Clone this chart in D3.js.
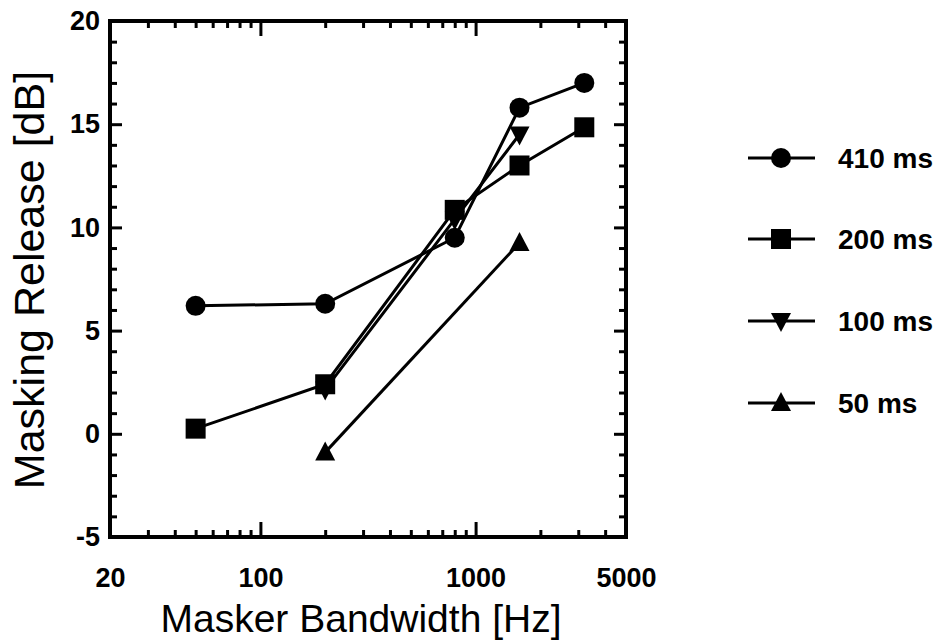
<!DOCTYPE html>
<html>
<head>
<meta charset="utf-8">
<script src="https://cdn.jsdelivr.net/npm/d3@7"></script>
<style>
  body { margin: 0; background: #fff; }
  svg { font-family: "Liberation Sans", Arial, sans-serif; }
  .tick text { font-weight: bold; font-size: 27px; fill: #000; }
</style>
</head>
<body>
<svg id="chart" width="941" height="641"></svg>
<script>
// masker bandwidths in Hz
var bw50 = [50, 200, 800, 1600, 3200];
var bwShort = [200, 800, 1600];
var bwShortest = [200, 1600];

// masking release (dB) per signal duration
var release410 = [6.2, 6.3, 9.5, 15.8, 17.0];
var release200 = [0.25, 2.4, 10.85, 13.0, 14.85];
var release100 = [2.15, 10.4, 14.5];
var release50 = [-0.9, 9.25];

var seriesNames = ['410 ms', '200 ms', '100 ms', '50 ms'];
var seriesSymbols = ['circle', 'square', 'down', 'up'];

var xTickLabels = [20, 100, 1000, 5000];
var xMinorTicks = [30, 40, 50, 60, 70, 80, 90, 200, 300, 400, 500, 600, 700, 800, 900, 2000, 3000, 4000];
var xMajorTicks = [100, 1000];
var yTickLabels = [-5, 0, 5, 10, 15, 20];
var yMinorTicks = d3.range(-4, 20);

var svg = d3.select('#chart');

var x = d3.scaleLog().domain([20, 5000]).range([110, 626]);
var y = d3.scaleLinear().domain([-5, 20]).range([537, 21]);

// inward pointing ticks on all four sides
function tickAxis(axis, values, size) {
    return axis.tickValues(values).tickSize(-size).tickFormat('');
}
function styleTicks(g) {
    g.select('.domain').remove();
    g.selectAll('.tick line').attr('stroke', '#000').attr('stroke-width', 3);
}

[[xMinorTicks, 7], [xMajorTicks, 15]].forEach(function(t) {
    svg.append('g').attr('transform', 'translate(0,537)')
        .call(tickAxis(d3.axisBottom(x), t[0], t[1])).call(styleTicks);
    svg.append('g').attr('transform', 'translate(0,21)')
        .call(tickAxis(d3.axisTop(x), t[0], t[1])).call(styleTicks);
});
var yMinor = yMinorTicks.filter(function(v) { return v % 5 !== 0; });
var yMajor = [0, 5, 10, 15];
[[yMinor, 7], [yMajor, 12]].forEach(function(t) {
    svg.append('g').attr('transform', 'translate(110,0)')
        .call(tickAxis(d3.axisLeft(y), t[0], t[1])).call(styleTicks);
    svg.append('g').attr('transform', 'translate(626,0)')
        .call(tickAxis(d3.axisRight(y), t[0], t[1])).call(styleTicks);
});

// tick labels (plain hyphen for negatives)
var plain = function(d) { return String(d); };
svg.append('g').attr('transform', 'translate(0,537)')
    .call(d3.axisBottom(x).tickValues(xTickLabels).tickSize(0).tickPadding(31).tickFormat(plain))
    .call(function(g) { g.select('.domain').remove(); });
svg.append('g').attr('transform', 'translate(110,0)')
    .call(d3.axisLeft(y).tickValues(yTickLabels).tickSize(0).tickPadding(10).tickFormat(plain))
    .call(function(g) { g.select('.domain').remove(); });

// frame
svg.append('rect')
    .attr('x', 110).attr('y', 21)
    .attr('width', 516).attr('height', 516)
    .attr('fill', 'none').attr('stroke', '#000').attr('stroke-width', 4);

// axis titles
svg.append('text')
    .attr('x', 361).attr('y', 632)
    .attr('text-anchor', 'middle')
    .attr('font-size', 39)
    .text('Masker Bandwidth [Hz]');
svg.append('text')
    .attr('transform', 'translate(44,280) rotate(-90)')
    .attr('text-anchor', 'middle')
    .attr('font-size', 43)
    .text('Masking Release [dB]');

// marker shapes
function drawSymbol(g, kind, cx, cy) {
    if (kind === 'circle') {
        g.append('circle').attr('cx', cx).attr('cy', cy).attr('r', 10);
    } else if (kind === 'square') {
        g.append('rect').attr('x', cx - 10).attr('y', cy - 10).attr('width', 20).attr('height', 20);
    } else if (kind === 'down') {
        g.append('path').attr('d', 'M' + (cx - 10) + ',' + (cy - 8) + 'L' + (cx + 10) + ',' + (cy - 8) + 'L' + cx + ',' + (cy + 11) + 'Z');
    } else {
        g.append('path').attr('d', 'M' + (cx - 10) + ',' + (cy + 8) + 'L' + (cx + 10) + ',' + (cy + 8) + 'L' + cx + ',' + (cy - 11) + 'Z');
    }
}

var series = [
    {xs: bw50, ys: release410},
    {xs: bw50, ys: release200},
    {xs: bwShort, ys: release100},
    {xs: bwShortest, ys: release50}
];

var line = d3.line()
    .x(function(d) { return x(d[0]); })
    .y(function(d) { return y(d[1]); });

var plot = svg.append('g');
// draw in reverse so 410 ms sits on top
series.slice().reverse().forEach(function(s, i) {
    var idx = series.length - 1 - i;
    var pts = d3.zip(s.xs, s.ys);
    var g = plot.append('g').attr('fill', '#000');
    g.append('path')
        .attr('d', line(pts))
        .attr('fill', 'none')
        .attr('stroke', '#000')
        .attr('stroke-width', 3);
    pts.forEach(function(p) {
        drawSymbol(g, seriesSymbols[idx], x(p[0]), y(p[1]));
    });
});

// legend
var legendY = [158, 239, 321, 403];
seriesNames.forEach(function(name, i) {
    var g = svg.append('g').attr('fill', '#000');
    g.append('line')
        .attr('x1', 748).attr('x2', 815)
        .attr('y1', legendY[i]).attr('y2', legendY[i])
        .attr('stroke', '#000').attr('stroke-width', 3);
    drawSymbol(g, seriesSymbols[i], 781, legendY[i]);
    g.append('text')
        .attr('x', 838).attr('y', legendY[i])
        .attr('dy', '0.35em')
        .attr('font-size', 28)
        .attr('font-weight', 'bold')
        .text(name);
});
</script>
</body>
</html>
